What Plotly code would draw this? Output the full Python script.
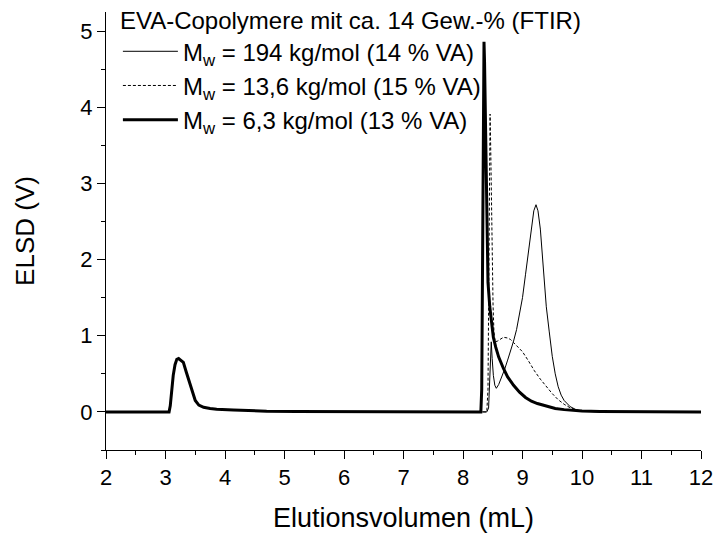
import plotly.graph_objects as go

# ---- data ----
# Mw = 194 kg/mol (14 % VA)  (thin solid)
vol_194 = [2.0, 3.0, 3.06, 3.08, 3.10, 3.13, 3.16, 3.19, 3.22, 3.26, 3.30, 3.35, 3.40, 3.45, 3.50,
           3.56, 3.64, 3.75, 3.86, 4.14, 4.42, 4.70, 5.20, 6.00, 7.00, 8.00, 8.40, 8.43, 8.45, 8.465,
           8.475, 8.49, 8.51, 8.535, 8.56, 8.60, 8.65, 8.70, 8.75, 8.80, 8.85, 8.90, 8.95, 9.00,
           9.05, 9.10, 9.15, 9.19, 9.227, 9.26, 9.30, 9.35, 9.40, 9.45, 9.50, 9.55, 9.60, 9.65,
           9.70, 9.80, 9.90, 10.0, 10.2, 10.5, 12.0]
elsd_194 = [0, 0, 0, 0.08, 0.28, 0.48, 0.62, 0.69, 0.70, 0.68, 0.65, 0.52, 0.39, 0.25, 0.15,
            0.09, 0.06, 0.045, 0.035, 0.026, 0.016, 0.010, 0.006, 0.003, 0.0, 0.0, 0.0, 0.05, 0.45, 0.88,
            0.92, 0.70, 0.48, 0.35, 0.31, 0.36, 0.45, 0.56, 0.68, 0.80, 0.93, 1.08, 1.27, 1.50,
            1.80, 2.12, 2.42, 2.64, 2.72, 2.64, 2.40, 1.85, 1.38, 1.05, 0.73, 0.50, 0.33, 0.22,
            0.15, 0.07, 0.03, 0.012, 0.003, 0.0, 0.0]

# Mw = 13,6 kg/mol (15 % VA)  (dashed)
vol_136 = [2.0, 3.0, 3.06, 3.08, 3.10, 3.13, 3.16, 3.19, 3.22, 3.26, 3.30, 3.35, 3.40, 3.45, 3.50,
           3.56, 3.64, 3.75, 3.86, 4.14, 4.42, 4.70, 5.20, 6.00, 7.00, 8.00, 8.40, 8.42, 8.435, 8.448,
           8.455, 8.465, 8.475, 8.49, 8.505, 8.52, 8.54, 8.58, 8.63, 8.68, 8.75, 8.80, 8.85, 8.90,
           8.95, 9.00, 9.10, 9.20, 9.30, 9.40, 9.50, 9.60, 9.70, 9.80, 9.90, 10.0, 10.2, 10.5, 12.0]
elsd_136 = [0, 0, 0, 0.08, 0.28, 0.48, 0.62, 0.69, 0.70, 0.68, 0.65, 0.52, 0.39, 0.25, 0.15,
            0.09, 0.06, 0.045, 0.035, 0.026, 0.016, 0.010, 0.006, 0.003, 0.0, 0.0, 0.0, 0.30, 2.00, 3.60,
            3.91, 3.50, 2.80, 2.00, 1.40, 1.05, 0.92, 0.93, 0.96, 0.98, 0.97, 0.95, 0.91, 0.87,
            0.83, 0.79, 0.67, 0.54, 0.43, 0.33, 0.24, 0.16, 0.10, 0.055, 0.025, 0.01, 0.003, 0.0, 0.0]

# Mw = 6,3 kg/mol (13 % VA)  (thick solid)
vol_63 = [2.0, 3.0, 3.06, 3.08, 3.10, 3.13, 3.16, 3.19, 3.22, 3.26, 3.30, 3.35, 3.40, 3.45, 3.50,
          3.56, 3.64, 3.75, 3.86, 4.14, 4.42, 4.70, 5.20, 6.00, 7.00, 8.00, 8.30, 8.315, 8.33, 8.345,
          8.353, 8.362, 8.375, 8.39, 8.405, 8.42, 8.45, 8.48, 8.51, 8.55, 8.60, 8.68, 8.75, 8.85,
          8.95, 9.05, 9.15, 9.25, 9.40, 9.55, 9.70, 9.85, 10.0, 10.3, 10.8, 11.5, 12.0]
elsd_63 = [0, 0, 0, 0.08, 0.28, 0.48, 0.62, 0.69, 0.70, 0.68, 0.65, 0.52, 0.39, 0.25, 0.15,
           0.09, 0.06, 0.045, 0.035, 0.026, 0.016, 0.010, 0.006, 0.003, 0.0, 0.0, 0.0, 0.30, 2.50, 4.60,
           4.86, 4.60, 3.80, 2.80, 2.10, 1.70, 1.38, 1.15, 0.98, 0.85, 0.72, 0.57, 0.46, 0.35,
           0.26, 0.19, 0.14, 0.11, 0.075, 0.045, 0.03, 0.02, 0.012, 0.006, 0.003, 0.0, 0.0]

names = ["M<sub>w</sub> = 194 kg/mol (14 % VA)",
         "M<sub>w</sub> = 13,6 kg/mol (15 % VA)",
         "M<sub>w</sub> = 6,3 kg/mol (13 % VA)"]
legend_title = "EVA-Copolymere mit ca. 14 Gew.-% (FTIR)"
x_title = "Elutionsvolumen (mL)"
y_title = "ELSD (V)"

FONT = "Liberation Sans, Arial, sans-serif"

fig = go.Figure()
fig.add_trace(go.Scatter(x=vol_194, y=elsd_194, mode="lines", name=names[0], legendgroup="a",
                         line=dict(color="black", width=1)))
fig.add_trace(go.Scatter(x=vol_136, y=elsd_136, mode="lines", name=names[1], legendgroup="b",
                         line=dict(color="black", width=1, dash="3px,2px")))
fig.add_trace(go.Scatter(x=vol_63, y=elsd_63, mode="lines", name=names[2], legendgroup="c",
                         line=dict(color="black", width=3)))

axis_common = dict(showline=True, linecolor="black", linewidth=1, ticks="outside", ticklen=8,
                   tickwidth=1, tickcolor="black", showgrid=False, zeroline=False, dtick=1,
                   automargin=False,
                   tickfont=dict(size=22, family=FONT, color="black"),
                   minor=dict(ticks="outside", ticklen=4, tickwidth=1, tickcolor="black", dtick=0.5,
                              showgrid=False))

fig.update_layout(
    width=717, height=533,
    margin=dict(l=106, r=16, t=12, b=83, autoexpand=False),
    paper_bgcolor="white", plot_bgcolor="white",
    font=dict(family=FONT, color="black"),
    xaxis=dict(range=[2, 12], title=dict(text=x_title, font=dict(size=27, family=FONT), standoff=22),
               tick0=2, **axis_common),
    yaxis=dict(range=[-0.5, 5.25], title=dict(text=y_title, font=dict(size=26, family=FONT), standoff=38),
               tick0=0, **axis_common),
    legend=dict(x=0.02, y=1.032, xanchor="left", yanchor="top", bgcolor="rgba(0,0,0,0)",
                font=dict(size=24, family=FONT, color="black"),
                title=dict(text=legend_title, side="top", font=dict(size=24, family=FONT)),
                itemwidth=55, tracegroupgap=9, traceorder="normal"),
    showlegend=True,
)

fig.write_html("out.html")
